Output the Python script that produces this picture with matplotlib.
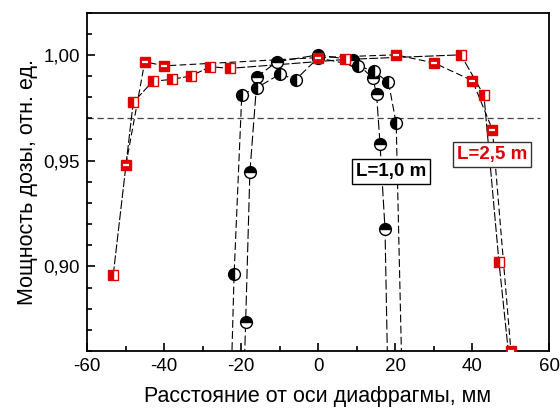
import matplotlib
matplotlib.use("Agg")
import matplotlib.pyplot as plt
from matplotlib.ticker import MultipleLocator, FuncFormatter

plt.rcParams['font.family'] = ['Liberation Sans', 'DejaVu Sans']
plt.rcParams['axes.unicode_minus'] = False

# L = 2.5 m, series with horizontally split squares
r_h_x = [-49.9, -45.0, -39.9, 0.0, 20.2, 30.1, 40.1, 45.3, 50.1]
r_h_y = [0.948, 0.9967, 0.9948, 0.9987, 1.000, 0.9962, 0.9878, 0.9646, 0.860]
# L = 2.5 m, series with vertically split squares
r_v_x = [-53.2, -48.0, -42.9, -38.0, -33.0, -28.0, -22.9, 7.0, 37.1, 43.1, 47.0, 50.0]
r_v_y = [0.8958, 0.9775, 0.9875, 0.9884, 0.990, 0.9944, 0.9936, 0.9978, 1.000, 0.9808, 0.902, 0.850]
# L = 1.0 m, circles with black top half
b_t_x = [-19.2, -18.8, -17.7, -15.8, -10.7, 0.0, 9.2, 14.2, 15.2, 16.1, 17.4, 18.2]
b_t_y = [0.850, 0.8736, 0.9445, 0.9897, 0.9967, 1.000, 0.9975, 0.9891, 0.9815, 0.958, 0.9177, 0.840]
# L = 1.0 m, circles with black left half
b_l_x = [-22.5, -21.8, -19.8, -15.9, -9.9, -5.8, 0.0, 10.5, 14.5, 18.3, 20.3, 21.9]
b_l_y = [0.850, 0.8962, 0.9812, 0.9844, 0.9909, 0.9883, 0.9985, 0.9948, 0.9922, 0.987, 0.9677, 0.840]

ref_level = 0.97
x_ticks = [-60, -40, -20, 0, 20, 40, 60]
y_ticks = [0.90, 0.95, 1.00]

fig = plt.figure(figsize=(5.6, 4.12), dpi=100)
ax = fig.add_axes([0.1554, 0.148, 0.825, 0.8216])

red = '#e00000'
lw = 0.8

ax.axhline(ref_level, xmin=0, xmax=0.98, color='#444444', lw=0.9, ls=(0, (5, 3)), zorder=1)

ax.plot(r_h_x, r_h_y, color='black', lw=lw, ls=(0, (6, 3)), zorder=2)
ax.plot(r_v_x, r_v_y, color='black', lw=lw, ls=(0, (8, 2)), zorder=2)
ax.plot(b_t_x, b_t_y, color='black', lw=lw, ls=(0, (9, 3)), zorder=2)
ax.plot(b_l_x, b_l_y, color='black', lw=lw, ls=(0, (7, 3)), zorder=2)

# circles
ax.plot(b_t_x, b_t_y, ls='none', marker='o', ms=8.5, fillstyle='top',
        markerfacecolor='black', markerfacecoloralt='white',
        markeredgecolor='black', markeredgewidth=1.0, zorder=3)
ax.plot(b_l_x, b_l_y, ls='none', marker='o', ms=8.5, fillstyle='left',
        markerfacecolor='black', markerfacecoloralt='white',
        markeredgecolor='black', markeredgewidth=1.0, zorder=3)
# squares
ax.plot(r_v_x, r_v_y, ls='none', marker='s', ms=7.5, fillstyle='left',
        markerfacecolor=red, markerfacecoloralt='white',
        markeredgecolor=red, markeredgewidth=1.0, zorder=4)
ax.plot(r_h_x, r_h_y, ls='none', marker='s', ms=7.5,
        markerfacecolor=red, markeredgecolor=red, markeredgewidth=1.0, zorder=4)
ax.plot(r_h_x, r_h_y, ls='none', marker='_', ms=5, markeredgecolor='white',
        markeredgewidth=1.6, zorder=5)

ax.set_xlim(-60, 60)
ax.set_ylim(0.86, 1.02)
ax.set_xticks(x_ticks)
ax.set_yticks(y_ticks)
ax.xaxis.set_minor_locator(MultipleLocator(10))
ax.yaxis.set_minor_locator(MultipleLocator(0.01))
ax.yaxis.set_major_formatter(FuncFormatter(lambda v, p: f"{v:.2f}".replace('.', ',')))
ax.xaxis.set_major_formatter(FuncFormatter(lambda v, p: f"{v:.0f}"))

ax.tick_params(which='both', direction='in', top=False, right=False, labelsize=13.5, width=1.2)
ax.tick_params(which='major', length=6, pad=5)
ax.tick_params(which='minor', length=3.5)
for s in ax.spines.values():
    s.set_linewidth(1.3)

ax.set_xlabel('Расстояние от оси диафрагмы, мм', fontsize=15.5, labelpad=8)
ax.set_ylabel('Мощность дозы, отн. ед.', fontsize=15.5, labelpad=4)

ax.text(18.9, 0.9449, 'L=1,0 m', fontsize=13.5, fontweight='bold', color='black',
        ha='center', va='center',
        bbox=dict(boxstyle='square,pad=0.22', facecolor='white', edgecolor='black', lw=1.0), zorder=6)
ax.text(45.2, 0.9530, 'L=2,5 m', fontsize=13.5, fontweight='bold', color=red,
        ha='center', va='center',
        bbox=dict(boxstyle='square,pad=0.22', facecolor='white', edgecolor='#333333', lw=1.0), zorder=6)

fig.savefig('out.png', dpi=100)
